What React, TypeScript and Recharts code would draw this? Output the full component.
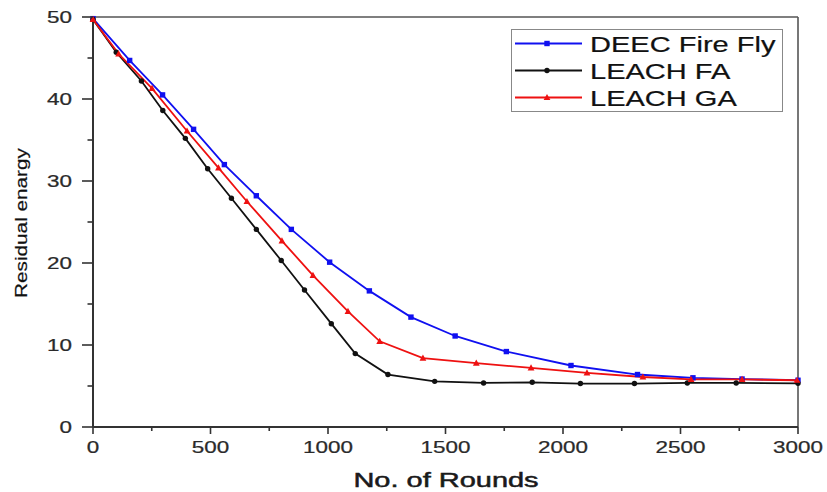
import { Line, LineChart, ReferenceLine, XAxis, YAxis } from "recharts";

const deecX = [0, 156, 296, 428, 559, 695, 844, 1007, 1176, 1353, 1541, 1759, 2034, 2317, 2553, 2762, 3000];
const deecY = [49.8, 44.7, 40.5, 36.3, 32.0, 28.2, 24.1, 20.1, 16.6, 13.4, 11.1, 9.2, 7.5, 6.4, 6.0, 5.85, 5.7];

const leachFaX = [0, 99, 206, 297, 393, 488, 589, 695, 801, 900, 1014, 1116, 1255, 1454, 1662, 1869, 2074, 2304, 2529, 2737, 3000];
const leachFaY = [49.7, 45.7, 42.2, 38.6, 35.2, 31.5, 27.9, 24.1, 20.3, 16.7, 12.6, 8.95, 6.4, 5.57, 5.37, 5.45, 5.3, 5.3, 5.37, 5.37, 5.33];

const leachGaX = [0, 109, 251, 400, 534, 655, 804, 936, 1085, 1220, 1404, 1631, 1864, 2102, 2340, 2545, 2762, 2996];
const leachGaY = [49.7, 45.5, 41.3, 36.1, 31.6, 27.5, 22.7, 18.5, 14.1, 10.45, 8.4, 7.8, 7.2, 6.6, 6.1, 5.8, 5.8, 5.7];

const xTicks = [0, 250, 500, 750, 1000, 1250, 1500, 1750, 2000, 2250, 2500, 2750, 3000];
const yTicks = [0, 5, 10, 15, 20, 25, 30, 35, 40, 45, 50];

const toRows = (xs: number[], ys: number[]) => xs.map((x, i) => ({ x, y: ys[i] }));

const BLUE = "#1010f0";
const BLACK = "#111111";
const RED = "#ee1111";
const AXIS = "#333333";
const FONT = "'Liberation Sans', Arial, sans-serif";
const SX = 1.32;

function Square(props: any) {
  const { cx, cy } = props;
  if (cx == null || cy == null) return null;
  return <rect x={cx - 2.7} y={cy - 2.7} width={5.4} height={5.4} fill={BLUE} />;
}

function Circle(props: any) {
  const { cx, cy } = props;
  if (cx == null || cy == null) return null;
  return <circle cx={cx} cy={cy} r={2.7} fill={BLACK} />;
}

function Triangle(props: any) {
  const { cx, cy } = props;
  if (cx == null || cy == null) return null;
  return <path d={`M${cx},${cy - 3.6} L${cx + 3.4},${cy + 2.6} L${cx - 3.4},${cy + 2.6} Z`} fill={RED} />;
}

function XTick(props: any) {
  const { x, y, payload } = props;
  const major = payload.value % 500 === 0;
  return (
    <g>
      <line x1={x} x2={x} y1={y} y2={y + (major ? 7 : 4)} stroke={AXIS} strokeWidth={1.6} />
      {major && (
        <text
          transform={`translate(${x},${y + 26}) scale(${SX},1)`}
          textAnchor="middle"
          fontSize={17}
          fontFamily={FONT}
          fill="#2a2a2a"
          stroke="#2a2a2a"
          strokeWidth={0.25}
        >
          {payload.value}
        </text>
      )}
    </g>
  );
}

function YTick(props: any) {
  const { x, y, payload } = props;
  const major = payload.value % 10 === 0;
  return (
    <g>
      <line x1={x - (major ? 11 : 5.5)} x2={x} y1={y} y2={y} stroke={AXIS} strokeWidth={1.6} />
      {major && (
        <text
          transform={`translate(${x - 21},${y + 6}) scale(${SX},1)`}
          textAnchor="end"
          fontSize={17}
          fontFamily={FONT}
          fill="#2a2a2a"
          stroke="#2a2a2a"
          strokeWidth={0.25}
        >
          {payload.value}
        </text>
      )}
    </g>
  );
}

const legendItems = [
  { name: "DEEC Fire Fly", color: BLUE, Mark: Square },
  { name: "LEACH FA", color: BLACK, Mark: Circle },
  { name: "LEACH GA", color: RED, Mark: Triangle },
];

function LegendBox() {
  return (
    <svg width={272} height={83} style={{ display: "block" }}>
      <rect x={0.5} y={0.5} width={271} height={82} fill="#fff" stroke="#888" strokeWidth={1} />
      {legendItems.map((it, i) => {
        const cy = 14.5 + i * 27;
        return (
          <g key={it.name}>
            <line x1={4} x2={71} y1={cy} y2={cy} stroke={it.color} strokeWidth={1.8} />
            <it.Mark cx={36} cy={cy} />
            <text
              transform={`translate(79,${cy + 8}) scale(${SX},1)`}
              fontSize={22}
              fontFamily={FONT}
              fill="#111"
              stroke="#111"
              strokeWidth={0.2}
            >
              {it.name}
            </text>
          </g>
        );
      })}
    </svg>
  );
}

export default function App() {
  return (
    <div style={{ position: "absolute", left: 0, top: 0, width: 827, height: 492, background: "#fff" }}>
      <LineChart width={827} height={492} margin={{ top: 17, right: 29, left: 33, bottom: 25 }}>
        <XAxis
          type="number"
          dataKey="x"
          domain={[0, 3000]}
          ticks={xTicks}
          interval={0}
          height={40}
          tickSize={0}
          tickMargin={0}
          tick={<XTick />}
          axisLine={{ stroke: AXIS, strokeWidth: 2 }}
          allowDuplicatedCategory={false}
          label={{
            content: () => (
              <text
                transform={`translate(446,487) scale(1.38,1)`}
                textAnchor="middle"
                fontSize={21}
                fontFamily={FONT}
                fill="#1a1a1a"
                stroke="#1a1a1a"
                strokeWidth={0.5}
              >
                No. of Rounds
              </text>
            ),
          }}
        />
        <YAxis
          type="number"
          domain={[0, 50]}
          ticks={yTicks}
          interval={0}
          width={60}
          tickSize={0}
          tickMargin={0}
          tick={<YTick />}
          axisLine={{ stroke: AXIS, strokeWidth: 2 }}
          label={{
            content: () => (
              <text
                transform={`translate(27,223) rotate(-90) scale(1.22,1)`}
                textAnchor="middle"
                fontSize={17}
                fontFamily={FONT}
                fill="#111"
                stroke="#111"
                strokeWidth={0.2}
              >
                Residual enargy
              </text>
            ),
          }}
        />
        <ReferenceLine y={50} stroke="#555" strokeWidth={1.6} />
        <ReferenceLine x={3000} stroke="#555" strokeWidth={1.6} />
        <Line
          data={toRows(deecX, deecY)}
          dataKey="y"
          name="DEEC Fire Fly"
          type="linear"
          stroke={BLUE}
          strokeWidth={1.8}
          dot={<Square />}
          isAnimationActive={false}
        />
        <Line
          data={toRows(leachFaX, leachFaY)}
          dataKey="y"
          name="LEACH FA"
          type="linear"
          stroke={BLACK}
          strokeWidth={1.8}
          dot={<Circle />}
          isAnimationActive={false}
        />
        <Line
          data={toRows(leachGaX, leachGaY)}
          dataKey="y"
          name="LEACH GA"
          type="linear"
          stroke={RED}
          strokeWidth={1.8}
          dot={<Triangle />}
          isAnimationActive={false}
        />
      </LineChart>
      <div style={{ position: "absolute", left: 511, top: 29 }}>
        <LegendBox />
      </div>
    </div>
  );
}
